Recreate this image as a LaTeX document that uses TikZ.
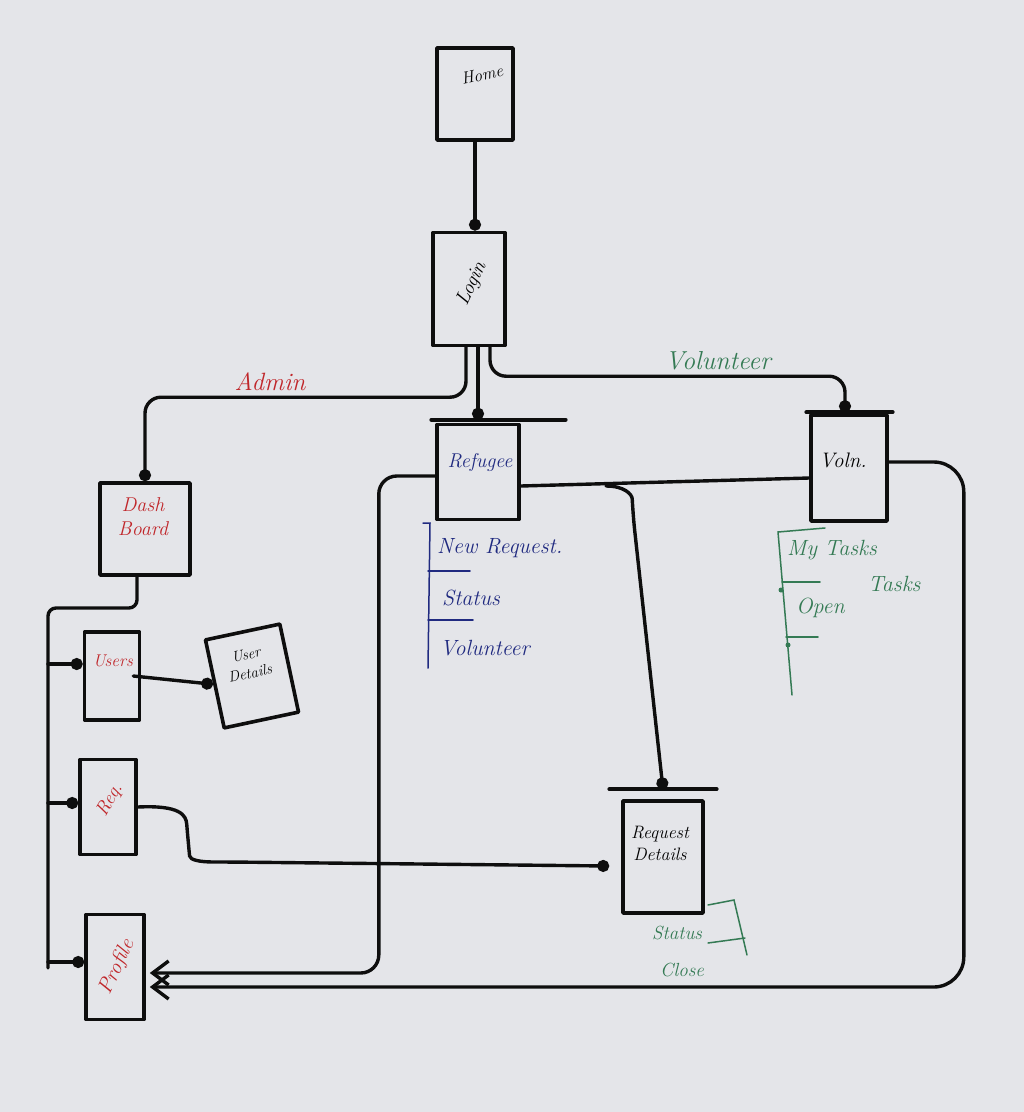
\documentclass[tikz,border=0pt]{standalone}
\usetikzlibrary{arrows.meta,calc}
\definecolor{board}{RGB}{228,229,233}
\definecolor{mred}{RGB}{192,38,42}
\definecolor{mblue}{RGB}{32,42,128}
\definecolor{mgreen}{RGB}{52,122,84}
\definecolor{ink}{RGB}{14,14,14}
\begin{document}
\begin{tikzpicture}[x=1pt,y=-1pt,
  box/.style={draw=ink, line width=3.6pt, rectangle, inner sep=0pt, line join=round},
  bar/.style={draw=ink, line width=3.6pt, line cap=round},
  conn/.style={draw=ink, line width=3.4pt, line cap=round, rounded corners=16pt},
  dotend/.style={-{Circle[length=12pt,width=12pt]}},
  arrend/.style={-{Straight Barb[length=16pt,width=24pt]}},
  thinb/.style={draw=mblue, line width=1.5pt, line cap=round},
  thing/.style={draw=mgreen, line width=1.5pt, line cap=round},
  lbl/.style={inner sep=0pt, font=\fontsize{16}{18}\selectfont\itshape},
  item/.style={inner sep=0pt, anchor=west, font=\fontsize{22}{24}\selectfont\itshape}
]
\fill[board] (0,0) rectangle (1024,1112);
\useasboundingbox (0,0) rectangle (1024,1112);

% boxes
\node[box, minimum width=76pt, minimum height=92pt] (home) at (475,94) {};
\node[box, minimum width=72pt, minimum height=113pt] (login) at (469,289) {};
\node[box, minimum width=82pt, minimum height=95pt] (ref) at (478,472) {};
\node[box, minimum width=76pt, minimum height=106pt] (voln) at (849,468) {};
\node[box, minimum width=90pt, minimum height=92pt] (dash) at (145,529) {};
\node[box, minimum width=55pt, minimum height=88pt] (users) at (112,676) {};
\node[box, minimum width=76pt, minimum height=90pt, rotate=12] (udet) at (252,676) {};
\node[box, minimum width=56pt, minimum height=95pt] (req) at (108,807) {};
\node[box, minimum width=58pt, minimum height=105pt] (prof) at (115,967) {};
\node[box, minimum width=80pt, minimum height=112pt] (rdet) at (663,857) {};

% top bars
\draw[bar] ($(ref.north west)+(-4,-3)$) -- ($(ref.north east)+(45,-3)$);
\draw[bar] ($(voln.north west)+(-3,-1)$) -- ($(voln.north east)+(4,-1)$);
\draw[bar] ($(rdet.north west)+(-12,-10)$) -- ($(rdet.north east)+(12,-10)$);

% box labels
\node[lbl, rotate=12, font=\fontsize{17}{18}\selectfont\itshape] (homeT) at (482,75) {Home};
\node[lbl, rotate=65, font=\fontsize{20}{20}\selectfont\itshape] (loginT) at (472,284) {Login};
\node[lbl, text=mblue, font=\fontsize{20}{20}\selectfont\itshape] (refT) at (480,462) {Refugee};
\node[lbl, font=\fontsize{21}{22}\selectfont\itshape] (volnT) at (843,460) {Voln.};
\node[lbl, text=mred, align=center, font=\fontsize{20}{24}\selectfont\itshape] (dashT) at (143,517) {Dash\\Board};
\node[lbl, text=mred, font=\fontsize{17}{18}\selectfont\itshape] (usersT) at (113,661) {Users};
\node[lbl, rotate=12, align=center, font=\fontsize{15}{19}\selectfont\itshape] (udetT) at (248,664) {User\\Details};
\node[lbl, text=mred, rotate=60, font=\fontsize{19}{20}\selectfont\itshape] (reqT) at (110,800) {Req.};
\node[lbl, text=mred, rotate=65, font=\fontsize{21}{22}\selectfont\itshape] (profT) at (117,967) {Profile};
\node[lbl, align=center, font=\fontsize{18}{22}\selectfont\itshape] (rdetT) at (660,843) {Request\\Details};

% edge labels
\node[lbl, text=mred, font=\fontsize{25}{26}\selectfont\itshape] (adminT) at (270,382) {Admin};
\node[lbl, text=mgreen, font=\fontsize{26}{28}\selectfont\itshape] (volT) at (718,361) {Volunteer};

% connectors
\draw[conn, dotend] (home.south) -- (home.south |- login.north);
\draw[conn, dotend] ($(login.south)+(-3,0)$) |- ($(dash.north)+(0,-84)$) -- (dash.north);
\draw[conn, dotend] ($(login.south)+(9,0)$) -- ($(ref.north)+(0,-3)$);
\draw[conn, dotend] ($(login.south)+(21,0)$) |- ($(voln.north)+(-4,-37)$) -- ($(voln.north)+(-4,-1)$);

\draw[conn] ($(ref.east)+(0,14)$) -- ($(voln.west)+(0,10)$);
\coordinate (br) at (606,486);
\draw[conn, dotend] (br) .. controls (624,486) and (632,494) .. (633,515) -- ($(rdet.north)+(0,-10)$);

\draw[conn, arrend, rounded corners=18pt] ($(ref.west)+(0,4)$) -| ($(prof.east)+(233,6)$) -- ($(prof.east)+(4,6)$);
\draw[conn, arrend, rounded corners=30pt] ($(voln.east)+(0,-6)$) -| ($(prof.east)+(818,20)$) -- ($(prof.east)+(4,20)$);

\coordinate (sp) at (48,608);
\coordinate (spEnd) at (48,968);
\draw[conn, rounded corners=8pt] ($(dash.south)+(-8,0)$) |- (sp) -- (spEnd);
\coordinate (uw) at ($(users.west)+(0,-12)$);
\coordinate (rw) at ($(req.west)+(0,-4)$);
\coordinate (pw) at ($(prof.west)+(0,-5)$);
\draw[conn, dotend] (uw -| sp) -- (uw);
\draw[conn, dotend] (rw -| sp) -- (rw);
\draw[conn, dotend] (pw -| sp) -- (pw);

\draw[conn, dotend] ($(users.east)+(-8,0)$) -- (udet.west);

\draw[conn, dotend] (req.east) .. controls (180,805) and (186,815) .. (188,840)
   .. controls (190,860) and (200,862) .. (230,862) -- ($(rdet.west)+(-12,9)$);

% refugee list (blue)
\draw[thinb] (423,523) -- (430,523) -- (428,668);
\draw[thinb] (428,571) -- (470,571);
\draw[thinb] (428,620) -- (473,620);
\node[item, text=mblue] (nr) at (437,548) {New Request.};
\node[item, text=mblue] (st) at (442,598) {Status};
\node[item, text=mblue] (vo) at (440,648) {Volunteer};

% volunteer list (green)
\draw[thing] (825,528) -- (778,532) -- (792,695);
\draw[thing] (782,582) -- (820,582);
\draw[thing] (786,637) -- (818,637);
\fill[mgreen] (781,590) circle (2.5pt);
\fill[mgreen] (788,645) circle (2.5pt);
\node[item, text=mgreen] (mt) at (787,550) {My Tasks};
\node[item, text=mgreen] (op) at (796,608) {Open};
\node[item, text=mgreen] (tk) at (868,584) {Tasks};

% request details list (green)
\draw[thing] (708,905) -- (734,900) -- (747,955);
\draw[thing] (708,943) -- (745,938);
\node[item, text=mgreen, font=\fontsize{19}{20}\selectfont\itshape] (rs) at (652,933) {Status};
\node[item, text=mgreen, font=\fontsize{19}{20}\selectfont\itshape] (rc) at (660,970) {Close};
\end{tikzpicture}
\end{document}
